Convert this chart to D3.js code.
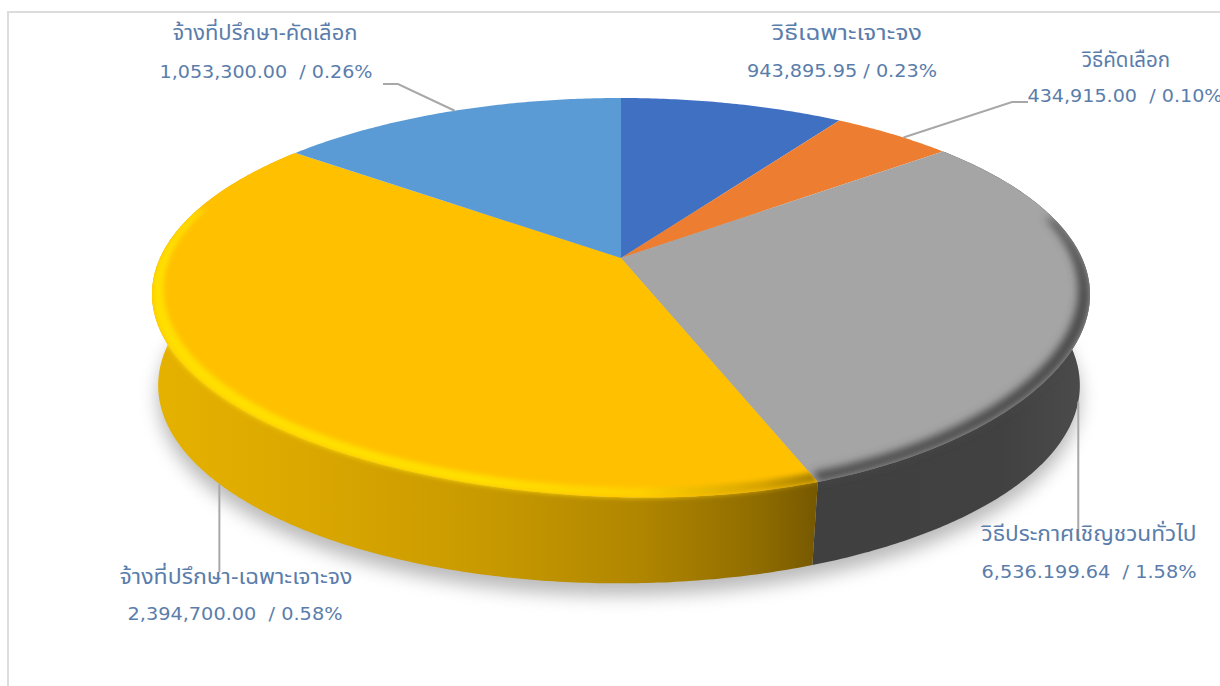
<!DOCTYPE html>
<html>
<head>
<meta charset="utf-8">
<script src="https://cdn.jsdelivr.net/npm/d3@7"></script>
<style>
  html, body { margin: 0; padding: 0; background: #fff; overflow: hidden; }
  text { font-family: "DejaVu Sans", sans-serif; fill: #5a7dab; white-space: pre; }
  .name { font-family: "Noto Sans Thai", "Noto Sans", "DejaVu Sans", sans-serif; font-size: 21px; }
  .amount { font-size: 18px; }
</style>
</head>
<body>
<div id="chart"></div>
<script>
// texts printed in the labels
const labelNames = ["วิธีเฉพาะเจาะจง", "วิธีคัดเลือก", "วิธีประกาศเชิญชวนทั่วไป", "จ้างที่ปรึกษา-เฉพาะเจาะจง", "จ้างที่ปรึกษา-คัดเลือก"];
const labelAmounts = ["943,895.95", "434,915.00", "6,536.199.64", "2,394,700.00", "1,053,300.00"];
const labelPercents = ["0.23%", "0.10%", "1.58%", "0.58%", "0.26%"];
const labelSeparators = [" / ", "  / ", "  / ", "  / ", "  / "];
// the slices as they are drawn in the picture (share of the circle, %)
const sliceShares = [9.2, 5.0, 30.05, 41.35, 14.4];
const sliceColors = ["#4070c2", "#ed7d31", "#a5a5a5", "#ffc000", "#5b9bd5"];

const width = 1220, height = 686;

const svg = d3.select("#chart").append("svg")
    .attr("width", width)
    .attr("height", height)
    .style("display", "block");

const defs = svg.append("defs");

function blurFilter(id, dev) {
    defs.append("filter").attr("id", id)
        .attr("x", "-10%").attr("y", "-10%").attr("width", "120%").attr("height", "120%")
        .append("feGaussianBlur").attr("stdDeviation", dev);
}
blurFilter("blurShadow", 9);
blurFilter("blurRimYellow", 2.4);
blurFilter("blurRimGray", 4.5);

function xGradient(id, stops) {
    const g = defs.append("linearGradient").attr("id", id)
        .attr("gradientUnits", "userSpaceOnUse")
        .attr("x1", 0).attr("x2", width).attr("y1", 0).attr("y2", 0);
    stops.forEach(s => g.append("stop").attr("offset", s[0] / width).attr("stop-color", s[1]));
}
xGradient("wallYellow", [[150, "#e6b200"], [300, "#dba800"], [480, "#c99a00"], [640, "#b08600"], [760, "#8f6c00"], [817, "#765800"]]);
xGradient("wallGray", [[817, "#404040"], [1000, "#414141"], [1090, "#4c4c4c"]]);
xGradient("rimYellow", [[150, "#ffdf00"], [480, "#ffe000"], [640, "#ffd000"], [760, "#d8a400"], [817, "#a88000"]]);

// circle seen in perspective: top rim and foot of the disc
const topRim = { cx: 621, cy: 258, a: 189.4, b: 461, k: -0.1837, bulge: 10 };
const footRim = { cx: 619, cy: 349, a: 191.3, b: 453, k: -0.1837, bulge: 0 };
const rad = d => d * Math.PI / 180;

function project(rim, angle, r = 1) {
    const u = r * Math.sin(angle), v = -r * Math.cos(angle);
    const d = 1 + rim.k * v;
    // the front right of the top rim hangs a little lower in the picture
    const sag = rim.bulge * r * Math.exp(-Math.pow((angle - rad(160)) / rad(35), 2));
    return [rim.cx + rim.b * u / d, rim.cy + rim.a * v / d + sag];
}

// inner edge of the bevel, pulled towards the back of the disc
const backPoint = project(topRim, 0);
const bevel = 0.975;
function inner(p) {
    return [backPoint[0] + bevel * (p[0] - backPoint[0]), backPoint[1] + bevel * (p[1] - backPoint[1])];
}

const slices = d3.pie().sort(null).value(d => d)(sliceShares);

function arcAngles(a0, a1) {
    const n = Math.max(2, Math.ceil((a1 - a0) / 0.01));
    return d3.range(n + 1).map(i => a0 + (a1 - a0) * i / n);
}

const line = d3.line();
const closed = pts => line(pts) + "Z";

const rimPath = rim => closed(arcAngles(0, 2 * Math.PI).map(t => project(rim, t)));
const wedge = s => closed([project(topRim, 0, 0)]
    .concat(arcAngles(s.startAngle, s.endAngle).map(t => project(topRim, t))));

// wall between both rims, cut where it turns away from the viewer so the
// two halves do not cancel each other out when filled
const turnAngles = [Math.acos(topRim.k), 2 * Math.PI - Math.acos(topRim.k)];
function wallPath(s) {
    const cuts = [s.startAngle].concat(turnAngles.filter(t => t > s.startAngle && t < s.endAngle), [s.endAngle]);
    return d3.pairs(cuts).map(([a0, a1]) => {
        const ts = arcAngles(a0, a1);
        return closed(ts.map(t => project(topRim, t)).concat(ts.slice().reverse().map(t => project(footRim, t))));
    }).join("");
}

// soft shadow under the disc
svg.append("path")
    .attr("d", rimPath(footRim))
    .attr("transform", "translate(0,12)")
    .attr("fill", "#8c8c8c")
    .attr("opacity", 0.6)
    .attr("filter", "url(#blurShadow)");

// side wall
const wallFill = { 2: "url(#wallGray)", 3: "url(#wallYellow)" };
svg.selectAll("path.wall")
    .data(slices.filter(s => wallFill[s.index]))
    .enter().append("path")
    .attr("class", "wall")
    .attr("fill", s => wallFill[s.index])
    .attr("fill-rule", "nonzero")
    .attr("d", wallPath);

// top face
svg.selectAll("path.face")
    .data(slices)
    .enter().append("path")
    .attr("class", "face")
    .attr("fill", s => sliceColors[s.index])
    .attr("d", wedge);

// bevel on the front of the face, blurred over the wall as well
const bevelStyle = [
    { index: 2, from: 78, fill: "#474747", filter: "blurRimGray" },
    { index: 3, to: 285, fill: "url(#rimYellow)", filter: "blurRimYellow" }
];
bevelStyle.forEach(b => {
    const s = slices[b.index];
    const a0 = b.from ? rad(b.from) : s.startAngle;
    const a1 = b.to ? rad(b.to) : s.endAngle;
    const ts = arcAngles(a0, a1);
    const clipId = "clipSlice" + b.index;
    const clip = defs.append("clipPath").attr("id", clipId);
    clip.append("path").attr("d", wedge(s));
    clip.append("path").attr("d", wallPath(s));
    svg.append("g").attr("clip-path", `url(#${clipId})`)
        .append("path")
        .attr("fill", b.fill)
        .attr("filter", `url(#${b.filter})`)
        .attr("d", closed(ts.map(t => project(topRim, t))
            .concat(ts.slice().reverse().map(t => inner(project(topRim, t))))));
});

// chart frame
svg.append("path")
    .attr("d", line([[8, height], [8, 12], [width, 12]]))
    .attr("fill", "none")
    .attr("stroke", "#dcdcdc")
    .attr("stroke-width", 2);

// leader lines start on a rim, part way along their slice
const leaders = [
    { index: 1, rim: topRim, at: 0.6, to: [[1012, 102], [1028, 102]] },
    { index: 2, rim: footRim, at: 0.5, dropTo: 540 },
    { index: 3, rim: footRim, at: 0.484, dropTo: 572 },
    { index: 4, rim: topRim, at: 0.52, to: [[398, 84], [383, 84]] }
];
function leaderPath(d) {
    const s = slices[d.index];
    const start = project(d.rim, s.startAngle + (s.endAngle - s.startAngle) * d.at);
    return line([start].concat(d.to || [[start[0], d.dropTo]]));
}
svg.selectAll("path.leader")
    .data(leaders)
    .enter().append("path")
    .attr("class", "leader")
    .attr("fill", "none")
    .attr("stroke", "#a8a8a8")
    .attr("stroke-width", 2)
    .attr("d", leaderPath);

// labels, stretched to the widths they have in the picture
const labelPos = [
    { x: 847, nameY: 40, nameW: 150, valueX: 842, valueY: 77, valueW: 190 },
    { x: 1126, nameY: 67, nameW: 88, valueX: 1125, valueY: 102, valueW: 195 },
    { x: 1089, nameY: 541, nameW: 215, valueX: 1089, valueY: 578, valueW: 215 },
    { x: 236, nameY: 584, nameW: 233, valueX: 235, valueY: 620, valueW: 215 },
    { x: 265, nameY: 40, nameW: 185, valueX: 266, valueY: 78, valueW: 213 }
];
labelNames.forEach((name, i) => {
    const p = labelPos[i];
    svg.append("text").attr("class", "name")
        .attr("x", p.x - p.nameW / 2).attr("y", p.nameY)
        .attr("textLength", p.nameW).attr("lengthAdjust", "spacingAndGlyphs")
        .text(name);
    svg.append("text").attr("class", "amount")
        .attr("x", p.valueX - p.valueW / 2).attr("y", p.valueY)
        .attr("textLength", p.valueW).attr("lengthAdjust", "spacingAndGlyphs")
        .text(labelAmounts[i] + labelSeparators[i] + labelPercents[i]);
});
</script>
</body>
</html>
